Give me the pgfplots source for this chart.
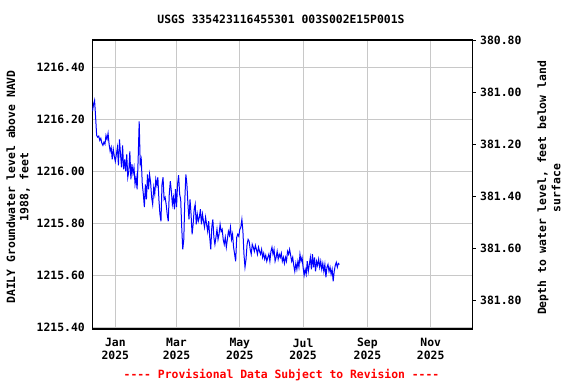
\documentclass[border=0pt]{standalone}
\usepackage{pgfplots}
\pgfplotsset{compat=1.18}
\usepackage{fontspec}
\setmonofont{DejaVu Sans Mono}
\newcommand\myfont{\ttfamily\bfseries\fontsize{11.4}{12.4}\selectfont}
\definecolor{gridgray}{RGB}{200,200,200}
\begin{document}
\begin{tikzpicture}
\useasboundingbox[fill=white] (-92.3pt,-55pt) rectangle (483.7pt,329pt);
\begin{axis}[
  at={(0pt,0pt)}, anchor=south west,
  scale only axis, width=380.4pt, height=289pt,
  xmin=-22.2, xmax=344.5,
  ymin=1215.3935, ymax=1216.505,
  xtick={0,59,120,181,243,304},
  xticklabels={Jan\\2025,Mar\\2025,May\\2025,Jul\\2025,Sep\\2025,Nov\\2025},
  ytick={1215.4,1215.6,1215.8,1216.0,1216.2,1216.4},
  grid=major,
  major grid style={gridgray, line width=1pt},
  major tick length=0pt,
  axis line style={black, line width=1.2pt},
  ticklabel style={font=\myfont},
  xticklabel style={align=center, yshift=-6pt},
  yticklabel style={xshift=-4pt},
  /pgf/number format/.cd, fixed, fixed zerofill, precision=2, 1000 sep={}, assume math mode=true,
]
\addplot[color={rgb,255:red,0;green,0;blue,255}, line width=1pt] table {
-22 1216.231
-21 1216.258
-20 1216.273
-19 1216.208
-18 1216.138
-17 1216.131
-16 1216.135
-15 1216.119
-14 1216.127
-13 1216.108
-12 1216.100
-11 1216.112
-10 1216.104
-9 1216.138
-8 1216.123
-7 1216.146
-6 1216.104
-5 1216.077
-4 1216.092
-3 1216.046
-2 1216.085
-1 1216.058
0 1216.038
1 1216.065
2 1216.092
3 1216.023
4 1216.123
5 1216.065
6 1216.015
7 1216.100
8 1216.008
9 1216.046
10 1216.000
11 1216.065
12 1215.977
13 1216.000
14 1216.077
15 1215.969
16 1216.027
17 1215.992
18 1216.015
19 1215.950
20 1215.977
21 1215.931
22 1216.046
23 1216.192
24 1216.027
25 1216.046
26 1215.950
27 1215.912
28 1215.862
29 1215.950
30 1215.892
31 1215.988
32 1215.931
33 1215.988
34 1215.958
35 1215.900
36 1215.873
37 1215.938
38 1215.912
39 1215.969
40 1215.946
41 1215.977
42 1215.892
43 1215.835
44 1215.808
45 1215.950
46 1215.977
47 1215.892
48 1215.900
49 1215.873
50 1215.835
51 1215.808
52 1215.912
53 1215.962
54 1215.923
55 1215.873
56 1215.900
57 1215.854
58 1215.931
59 1215.862
60 1215.950
61 1215.985
62 1215.912
63 1215.892
64 1215.785
65 1215.700
66 1215.738
67 1215.892
68 1215.988
69 1215.950
70 1215.873
71 1215.815
72 1215.892
73 1215.835
74 1215.758
75 1215.796
76 1215.854
77 1215.873
78 1215.796
79 1215.835
80 1215.808
81 1215.823
82 1215.854
83 1215.796
84 1215.835
85 1215.808
86 1215.785
87 1215.823
88 1215.796
89 1215.769
90 1215.808
91 1215.746
92 1215.700
93 1215.785
94 1215.815
95 1215.746
96 1215.719
97 1215.746
98 1215.777
99 1215.738
100 1215.758
101 1215.796
102 1215.769
103 1215.777
104 1215.738
105 1215.719
106 1215.746
107 1215.708
108 1215.738
109 1215.769
110 1215.754
111 1215.785
112 1215.738
113 1215.758
114 1215.708
115 1215.681
116 1215.654
117 1215.746
118 1215.758
119 1215.750
120 1215.777
121 1215.785
122 1215.815
123 1215.769
124 1215.681
125 1215.631
126 1215.662
127 1215.719
128 1215.738
129 1215.731
130 1215.700
131 1215.681
132 1215.719
133 1215.708
134 1215.692
135 1215.715
136 1215.700
137 1215.681
138 1215.708
139 1215.692
140 1215.681
141 1215.700
142 1215.669
143 1215.685
144 1215.662
145 1215.677
146 1215.654
147 1215.669
148 1215.681
149 1215.654
150 1215.692
151 1215.708
152 1215.681
153 1215.700
154 1215.654
155 1215.669
156 1215.692
157 1215.662
158 1215.681
159 1215.669
160 1215.685
161 1215.654
162 1215.669
163 1215.646
164 1215.669
165 1215.654
166 1215.692
167 1215.681
168 1215.700
169 1215.677
170 1215.654
171 1215.669
172 1215.638
173 1215.615
174 1215.646
175 1215.623
176 1215.654
177 1215.631
178 1215.681
179 1215.654
180 1215.669
181 1215.631
182 1215.600
183 1215.623
184 1215.604
185 1215.654
186 1215.615
187 1215.642
188 1215.669
189 1215.623
190 1215.681
191 1215.631
192 1215.669
193 1215.615
194 1215.654
195 1215.638
196 1215.662
197 1215.631
198 1215.654
199 1215.623
200 1215.646
201 1215.615
202 1215.642
203 1215.592
204 1215.631
205 1215.642
206 1215.615
207 1215.631
208 1215.604
209 1215.623
210 1215.577
211 1215.615
212 1215.638
213 1215.650
214 1215.631
215 1215.646
216 1215.642
};
\end{axis}
\begin{axis}[
  at={(0pt,0pt)}, anchor=south west,
  scale only axis, width=380.4pt, height=289pt,
  xmin=-22.2, xmax=344.5,
  axis x line=none,
  axis y line*=right,
  y dir=reverse,
  ymin=380.80, ymax=381.911,
  ytick={380.8,381.0,381.2,381.4,381.6,381.8},
  tick align=outside,
  major tick length=3pt,
  ytick style={black, line width=1pt},
  axis line style={black, line width=1.2pt},
  ticklabel style={font=\myfont},
  yticklabel style={xshift=1pt},
  /pgf/number format/.cd, fixed, fixed zerofill, precision=2, 1000 sep={}, assume math mode=true,
]
\end{axis}
\node[font=\myfont] at (188.7pt,310pt) {USGS 335423116455301 003S002E15P001S};
\node[font=\myfont, text=red] at (189.2pt,-46pt) {---- Provisional Data Subject to Revision ----};
\node[font=\myfont, rotate=90] at (-81.3pt,142pt) {DAILY Groundwater level above NAVD};
\node[font=\myfont, rotate=90] at (-67.5pt,142pt) {1988, feet};
\node[font=\myfont, rotate=90] at (450.7pt,141pt) {Depth to water level, feet below land};
\node[font=\myfont, rotate=90] at (463.7pt,141pt) {surface};
\end{tikzpicture}
\end{document}
